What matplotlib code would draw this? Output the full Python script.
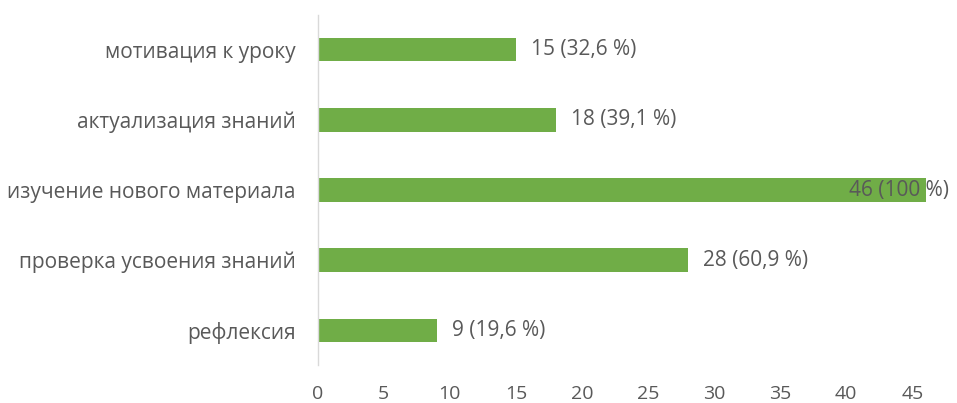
import matplotlib
matplotlib.use("Agg")
import matplotlib.pyplot as plt

categories = [
    "мотивация к уроку",
    "актуализация знаний",
    "изучение нового материала",
    "проверка усвоения знаний",
    "рефлексия",
]
counts = [15, 18, 46, 28, 9]
total = 46
x_ticks = [0, 5, 10, 15, 20, 25, 30, 35, 40, 45]

plt.rcParams["font.family"] = ["Open Sans", "DejaVu Sans"]
text_color = "#595959"
bar_color = "#70AD47"

fig = plt.figure(figsize=(9.57, 4.03), dpi=100)
ax = fig.add_axes([0.332, 0.094, 0.642, 0.869])

y = list(range(len(categories)))
ax.barh(y, counts, height=0.33, color=bar_color)
ax.set_ylim(len(categories) - 0.5, -0.5)
ax.set_xlim(0, 46.5)

ax.set_yticks(y)
ax.set_yticklabels(categories, fontsize=15, color=text_color)
ax.set_xticks(x_ticks)
ax.set_xticklabels([str(t) for t in x_ticks], fontsize=14, color=text_color)
ax.tick_params(axis="y", length=0, pad=16)
ax.tick_params(axis="x", length=0, pad=14)

for side in ("top", "right", "bottom"):
    ax.spines[side].set_visible(False)
ax.spines["left"].set_color("#D9D9D9")
ax.spines["left"].set_linewidth(1)

vmax = max(counts)
for yi, c in zip(y, counts):
    pct = f"{c / total * 100:.1f}".replace(".", ",")
    if pct.endswith(",0"):
        pct = pct[:-2]
    label = f"{c} ({pct} %)"
    if c == vmax:
        ax.annotate(label, (c, yi), xytext=(17, 0), textcoords="offset points",
                    ha="right", va="center", fontsize=15, color=text_color)
    else:
        ax.annotate(label, (c, yi), xytext=(11, 0), textcoords="offset points",
                    ha="left", va="center", fontsize=15, color=text_color)

fig.savefig("out.png", dpi=100)
